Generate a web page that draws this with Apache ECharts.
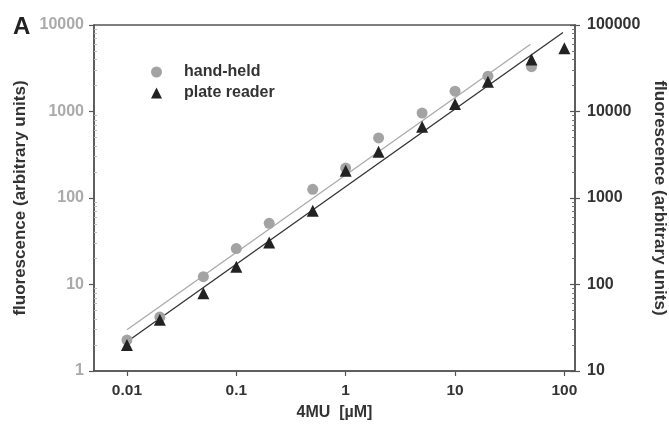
<!DOCTYPE html>
<html>
<head>
<meta charset="utf-8">
<script src="https://cdn.jsdelivr.net/npm/echarts@6/dist/echarts.min.js"></script>
<style>html,body{margin:0;padding:0;background:#fff}#c{width:669px;height:424px}</style>
</head>
<body>
<div id="c"></div>
<script>
// concentration of 4MU (µM)
const concentrations = [0.01, 0.02, 0.05, 0.1, 0.2, 0.5, 1, 2, 5, 10, 20, 50, 100];
// hand-held fluorimeter readings (left axis)
const handHeld = [2.28, 4.2, 12.3, 26, 51, 126, 222, 495, 960, 1720, 2560, 3300];
// plate reader readings (plotted against left axis scale)
const plateReader = [2.0, 3.9, 7.9, 16, 30.5, 71, 206, 343, 667, 1220, 2210, 4000, 5380];
// fitted lines (endpoints)
const handHeldFitX = [0.01, 49];
const handHeldFitY = [3.0, 6000];
const plateFitX = [0.01, 97];
const plateFitY = [2.18, 8200];
// tick labels
const xTicks = [0.01, 0.1, 1, 10, 100];
const yLeftTicks = [1, 10, 100, 1000, 10000];
const yRightTicks = [10, 100, 1000, 10000, 100000];

function minorTicks(lo, hi) {
  const out = [];
  for (let d = lo; d < hi; d *= 10) {
    for (let k = 2; k <= 9; k++) out.push(+(k * d).toPrecision(3));
  }
  return out;
}

const font = 'Liberation Sans, Arial, sans-serif';
const chart = echarts.init(document.getElementById('c'), null, {renderer: 'canvas'});

const hhPts = handHeld.map((v, i) => [concentrations[i], v]);
const prPts = plateReader.map((v, i) => [concentrations[i], v]);
const hhFit = handHeldFitX.map((x, i) => [x, handHeldFitY[i]]);
const prFit = plateFitX.map((x, i) => [x, plateFitY[i]]);

chart.setOption({
  animation: false,
  textStyle: {fontFamily: font},
  title: {text: 'A', left: 8, top: 10, textStyle: {fontSize: 24, fontWeight: 'bold', color: '#222', fontFamily: font}},
  grid: {left: 94, right: 94, top: 25, bottom: 53, outerBoundsMode: 'none', containLabel: false,
    show: true, borderColor: '#555', borderWidth: 1.5, backgroundColor: 'transparent'},
  legend: {
    orient: 'vertical', left: 146, top: 59, itemWidth: 11, itemHeight: 11, itemGap: 5,
    textStyle: {fontSize: 16, fontWeight: 'bold', color: '#333', fontFamily: font, padding: [0, 0, 0, 17]},
    data: [
      {name: 'hand-held', icon: 'circle', itemStyle: {color: '#a3a3a3'}},
      {name: 'plate reader', icon: 'triangle', itemStyle: {color: '#222'}}
    ]
  },
  xAxis: {
    type: 'log', min: 0.005, max: 125,
    name: '4MU  [\u00b5M]', nameLocation: 'middle', nameGap: 34,
    nameTextStyle: {fontSize: 16, fontWeight: 'bold', color: '#333', fontFamily: font},
    axisLine: {show: true, lineStyle: {color: '#555', width: 1.5}},
    axisTick: {show: true, inside: false, length: 5, customValues: xTicks, lineStyle: {color: '#555', width: 1.2}},
    axisLabel: {customValues: xTicks, fontSize: 15.5, fontWeight: 'bold', color: '#333', margin: 12, fontFamily: font,
      formatter: v => String(+v.toPrecision(3))},
    splitLine: {show: false}, minorTick: {show: false}
  },
  yAxis: [
    {
      type: 'log', position: 'left', min: 1, max: 10000,
      name: 'fluorescence (arbitrary units)', nameLocation: 'middle', nameGap: 63, nameRotate: 90,
      nameTextStyle: {fontSize: 17, fontWeight: 'bold', color: '#333', fontFamily: font},
      axisLine: {show: true, lineStyle: {color: '#555', width: 1.5}},
      axisTick: {show: true, inside: false, length: 5, customValues: yLeftTicks, lineStyle: {color: '#555', width: 1.2}},
      axisLabel: {customValues: yLeftTicks, fontSize: 16, fontWeight: 'bold', color: '#aaa', margin: 10, fontFamily: font,
        formatter: v => String(Math.round(v))},
      splitLine: {show: false}
    },
    {
      type: 'log', position: 'left', min: 1, max: 10000,
      axisLine: {show: false},
      axisTick: {show: true, inside: true, length: 3, customValues: minorTicks(1, 10000), lineStyle: {color: '#bbb', width: 1}},
      axisLabel: {show: false}, splitLine: {show: false}
    },
    {
      type: 'log', position: 'right', min: 10, max: 100000,
      name: 'fluorescence (arbitrary units)', nameLocation: 'middle', nameGap: 72, nameRotate: -90,
      nameTextStyle: {fontSize: 17, fontWeight: 'bold', color: '#333', fontFamily: font},
      axisLine: {show: true, lineStyle: {color: '#555', width: 1.5}},
      axisTick: {show: true, inside: false, length: 5, customValues: yRightTicks, lineStyle: {color: '#555', width: 1.2}},
      axisLabel: {customValues: yRightTicks, fontSize: 16, fontWeight: 'bold', color: '#333', margin: 12, fontFamily: font,
        formatter: v => String(Math.round(v))},
      splitLine: {show: false}
    },
    {
      type: 'log', position: 'right', min: 10, max: 100000,
      axisLine: {show: false},
      axisTick: {show: true, inside: true, length: 5, customValues: yRightTicks, lineStyle: {color: '#555', width: 1.2}},
      axisLabel: {show: false}, splitLine: {show: false}
    },
    {
      type: 'log', position: 'right', min: 10, max: 100000,
      axisLine: {show: false},
      axisTick: {show: true, inside: true, length: 3, customValues: minorTicks(10, 100000), lineStyle: {color: '#777', width: 1}},
      axisLabel: {show: false}, splitLine: {show: false}
    }
  ],
  series: [
    {name: 'hand-held fit', type: 'line', data: hhFit, showSymbol: false, symbol: 'none',
      lineStyle: {color: '#aaa', width: 1.3}, silent: true, z: 1},
    {name: 'plate reader fit', type: 'line', data: prFit, showSymbol: false, symbol: 'none',
      lineStyle: {color: '#333', width: 1.3}, silent: true, z: 1},
    {name: 'hand-held', type: 'scatter', data: hhPts, symbol: 'circle', symbolSize: 11,
      itemStyle: {color: '#a3a3a3', opacity: 1}, z: 3},
    {name: 'plate reader', type: 'scatter', data: prPts, symbol: 'triangle', symbolSize: 12,
      itemStyle: {color: '#222', opacity: 1}, z: 4}
  ]
});
</script>
</body>
</html>
